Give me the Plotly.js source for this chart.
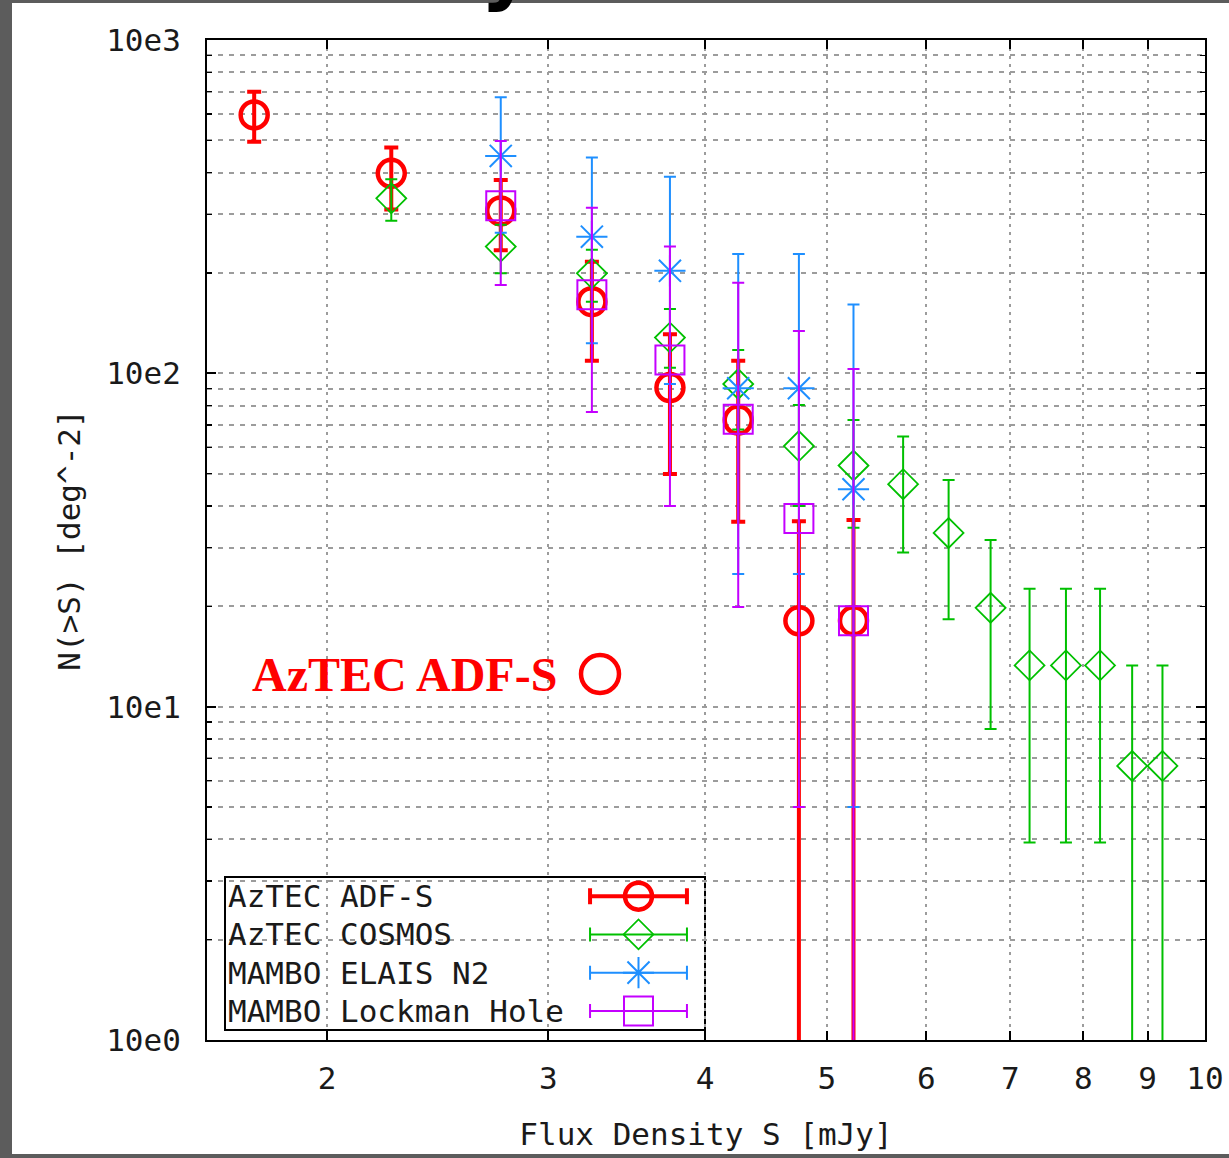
<!DOCTYPE html>
<html>
<head>
<meta charset="utf-8">
<script src="https://cdn.plot.ly/plotly-3.0.1.min.js"></script>
<style>
  html, body { margin: 0; padding: 0; background: #ffffff; }
  #chart { width: 1229px; height: 1158px; }
</style>
</head>
<body>
<div id="chart"></div>
<script>
// ---------------- data ----------------
const seriesNames = ["AzTEC ADF-S", "AzTEC COSMOS", "MAMBO ELAIS N2", "MAMBO Lockman Hole"];

const adfsX  = [1.75, 2.25, 2.75, 3.25, 3.75, 4.25, 4.75, 5.25];
const adfsY  = [596, 398, 307, 164, 90.6, 72.4, 18.1, 18.1];
const adfsHi = [700, 476, 380, 216, 131, 109, 36, 36.3];
const adfsLo = [495, 310, 234, 109, 49.9, 35.9, 0, 0];

const cosmosX  = [2.25, 2.75, 3.25, 3.75, 4.25, 4.75, 5.25, 5.75, 6.25, 6.75, 7.25, 7.75, 8.25, 8.75, 9.25];
const cosmosY  = [335, 240, 199.5, 128, 92.9, 60.5, 52.9, 46.5, 33.2, 19.8, 13.3, 13.3, 13.3, 6.64, 6.64];
const cosmosHi = [382, 279, 235, 156, 117.5, 80.4, 72.4, 64.6, 47.9, 31.6, 22.6, 22.6, 22.6, 13.3, 13.3];
const cosmosLo = [287, 199.5, 164, 104, 67.9, 40, 34.4, 29.0, 18.3, 8.57, 3.91, 3.91, 3.91, 0, 0];

const elaisX  = [2.75, 3.25, 3.75, 4.25, 4.75, 5.25];
const elaisY  = [449, 257, 203, 90.2, 90.2, 44.9];
const elaisHi = [673, 444, 389, 228, 228, 161];
const elaisLo = [264, 123, 92.9, 25, 25, 5.0];

const lockX  = [2.75, 3.25, 3.75, 4.25, 4.75, 5.25];
const lockY  = [318, 172, 109.6, 72.8, 36.7, 18.1];
const lockHi = [498, 314, 240, 187, 134, 103];
const lockLo = [184, 76.6, 40, 19.9, 5.0, 0];

const xTickVals = [2, 3, 4, 5, 6, 7, 8, 9, 10];
const xTickText = ["2", "3", "4", "5", "6", "7", "8", "9", "10"];
const yTickVals = [1, 10, 100, 1000];
const yTickText = ["10e0", "10e1", "10e2", "10e3"];

// ---------------- styles ----------------
const MONO = "DejaVu Sans Mono";
const TXT = "#1a1a1a";
const GRID = "#9c9c9c";
const styles = [
  { color: "#ff0000", symbol: "circle-open",   size: 27, lw: 4.5, ebw: 4,   cap: 7 },
  { color: "#00c000", symbol: "diamond-open",  size: 23, lw: 1.8, ebw: 2,   cap: 6 },
  { color: "#1e8fff", symbol: "asterisk-open", size: 26, lw: 2,   ebw: 2,   cap: 6 },
  { color: "#c400ff", symbol: "square-open",   size: 29, lw: 2,   ebw: 2,   cap: 6 }
];

const minorY = [];
[1, 10, 100].forEach(d => { for (let k = 2; k <= 9; k++) minorY.push(k * d); });

function diff(a, b) { return a.map((v, i) => v - b[i]); }

const sets = [
  [adfsX, adfsY, adfsHi, adfsLo],
  [cosmosX, cosmosY, cosmosHi, cosmosLo],
  [elaisX, elaisY, elaisHi, elaisLo],
  [lockX, lockY, lockHi, lockLo]
];

const traces = sets.map((s, i) => {
  const st = styles[i];
  return {
    type: "scatter", mode: "markers", name: seriesNames[i],
    x: s[0], y: s[1],
    error_y: { type: "data", symmetric: false,
               array: diff(s[2], s[1]), arrayminus: diff(s[1], s[3]),
               color: st.color, thickness: st.ebw, width: st.cap },
    marker: { symbol: st.symbol, size: st.size, color: st.color,
              line: { color: st.color, width: st.lw } },
    showlegend: false, hoverinfo: "skip", cliponaxis: true
  };
});

// legend samples on a helper axis pair (horizontal error bar through the marker)
seriesNames.forEach((n, i) => {
  const st = styles[i];
  traces.push({
    type: "scatter", mode: "markers", xaxis: "x2", yaxis: "y2",
    x: [0], y: [i],
    error_x: { type: "constant", value: 1, color: st.color, thickness: st.ebw, width: st.cap + 1 },
    marker: { symbol: st.symbol, size: st.size, color: st.color,
              line: { color: st.color, width: st.lw } },
    showlegend: false, hoverinfo: "skip"
  });
});

// ---------------- layout ----------------
const L = 207, PW = 998, T = 40, PH = 1000;
const px = p => (p - L) / PW;
const py = p => (T + PH - p) / PH;

const annotations = seriesNames.map((n, i) => ({
  xref: "paper", yref: "y2", x: px(226), y: i, xanchor: "left", yanchor: "middle",
  text: n, showarrow: false, font: { family: MONO, size: 31, color: TXT }
}));
annotations.push({
  xref: "paper", yref: "paper", x: px(250), y: py(674), xanchor: "left", yanchor: "middle",
  text: "<b>AzTEC ADF-S</b>", showarrow: false,
  font: { family: "Liberation Serif", size: 48, color: "#ff0000" }
});
annotations.push({
  xref: "paper", yref: "paper", x: px(582), y: py(16), xanchor: "right", yanchor: "bottom",
  text: "<b>surveys</b>", showarrow: false,
  font: { family: "DejaVu Sans", size: 80, color: "#000" }
});

const shapes = [
  { type: "rect", xref: "paper", yref: "paper", x0: px(225), x1: px(705), y0: py(1030), y1: py(877),
    line: { color: "#000", width: 2 }, fillcolor: "#ffffff", layer: "below" },
  { type: "circle", xref: "paper", yref: "paper", x0: px(581), x1: px(619), y0: py(693), y1: py(655),
    line: { color: "#ff0000", width: 4.5 } },
  { type: "rect", xref: "paper", yref: "paper", x0: px(0), x1: px(12), y0: py(1158), y1: py(0),
    line: { width: 0 }, fillcolor: "#5c5c5c" },
  { type: "rect", xref: "paper", yref: "paper", x0: px(0), x1: px(1229), y0: py(3), y1: py(0),
    line: { width: 0 }, fillcolor: "#5c5c5c" },
  { type: "rect", xref: "paper", yref: "paper", x0: px(0), x1: px(1229), y0: py(1158), y1: py(1154),
    line: { width: 0 }, fillcolor: "#5c5c5c" }
];

const layout = {
  width: 1229, height: 1158, autosize: false,
  margin: { l: 207, r: 24, t: 40, b: 118, pad: 0 },
  paper_bgcolor: "#ffffff", plot_bgcolor: "rgba(0,0,0,0)",
  showlegend: false,
  font: { family: MONO, size: 31, color: TXT },
  xaxis: {
    type: "log", range: [Math.log10(1.605), 1],
    tickmode: "array", tickvals: xTickVals, ticktext: xTickText,
    ticks: "inside", ticklen: 9, tickwidth: 2, tickcolor: "#000",
    showline: true, linecolor: "#000", linewidth: 2, mirror: "ticks",
    showgrid: true, gridcolor: GRID, gridwidth: 2, griddash: "3px,5px",
    zeroline: false, ticklabelstandoff: 10,
    tickfont: { family: MONO, size: 31, color: TXT },
    title: { text: "Flux Density S [mJy]", standoff: 28, font: { family: MONO, size: 31, color: TXT } }
  },
  yaxis: {
    type: "log", range: [0, 3],
    tickmode: "array", tickvals: yTickVals, ticktext: yTickText,
    ticks: "inside", ticklen: 9, tickwidth: 2, tickcolor: "#000",
    showline: true, linecolor: "#000", linewidth: 2, mirror: "ticks",
    showgrid: true, gridcolor: GRID, gridwidth: 2, griddash: "5px,6px",
    minor: { tickmode: "array", tickvals: minorY, ticks: "inside", ticklen: 5, tickwidth: 1.5,
             tickcolor: "#000", showgrid: true, gridcolor: GRID, gridwidth: 2, griddash: "5px,6px" },
    zeroline: false, ticklabelstandoff: 18,
    tickfont: { family: MONO, size: 31, color: TXT },
    title: { text: "N(>S) [deg^-2]", standoff: 16, font: { family: MONO, size: 31, color: TXT } }
  },
  xaxis2: { domain: [px(585.2), px(691.8)], range: [-1.1, 1.1], anchor: "y2", visible: false, fixedrange: true },
  yaxis2: { domain: [py(1030), py(877)], range: [3.5, -0.5], anchor: "x2", visible: false, fixedrange: true },
  annotations: annotations,
  shapes: shapes
};

Plotly.newPlot("chart", traces, layout, { displayModeBar: false, staticPlot: true });
</script>
</body>
</html>
